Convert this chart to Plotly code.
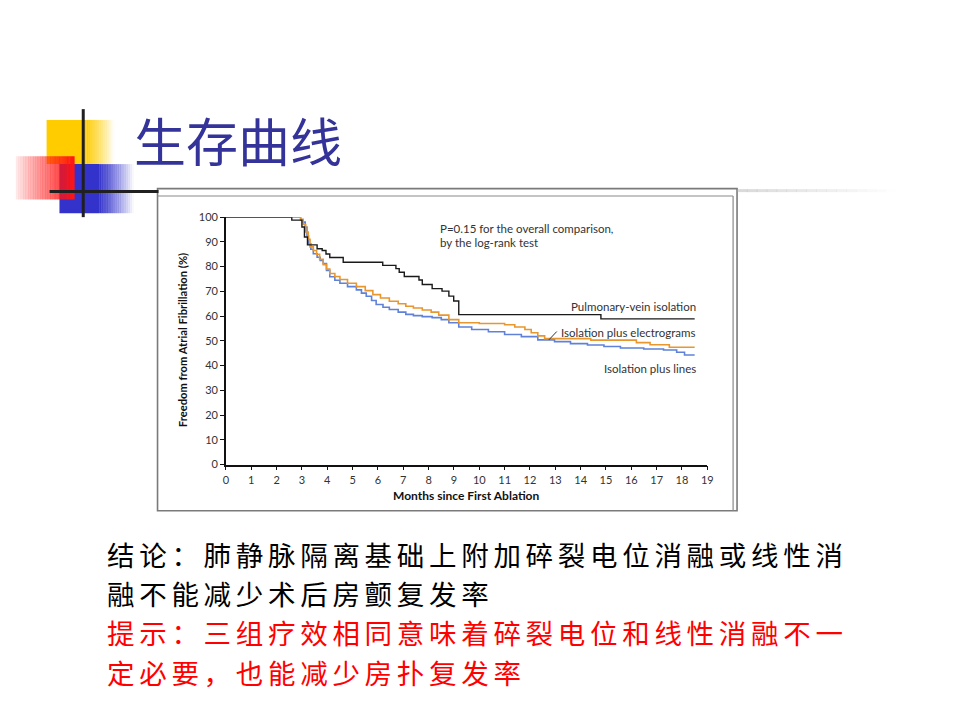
import plotly.graph_objects as go

# ---------------- data ----------------
months_pvi = [0, 2.6, 3.0, 3.1, 3.22, 3.6, 3.8, 3.95, 4.1, 4.63, 6.19, 6.71, 6.84, 7.04,
              7.62, 7.75, 8.14, 8.53, 8.8, 8.99, 9.19, 14.8, 18.5]
surv_pvi = [100, 98.8, 96, 92, 88.8, 87.2, 86.5, 85.1, 83.7, 81.8, 80.5, 79.2, 77.7, 76.0,
            74.6, 72.8, 71.1, 70.1, 68.1, 66.1, 60.6, 58.9, 58.9]

months_egm = [0, 2.95, 3.05, 3.15, 3.25, 3.32, 3.45, 3.58, 3.7, 3.84, 3.97, 4.1, 4.3, 4.5,
              4.8, 5.15, 5.5, 5.8, 6.1, 6.45, 6.8, 7.1, 7.4, 7.75, 8.1, 8.4, 8.8, 9.19,
              10.0, 11.0, 11.4, 11.8, 12.05, 12.31, 12.58, 14.4, 16.2, 16.74, 17.5, 18.5]
surv_egm = [100, 99, 97, 94, 91, 88, 86.5, 85, 83, 80.8, 79, 77.2, 76, 74.8,
            73.3, 71.9, 70.3, 68.7, 67.3, 66.0, 65, 64.0, 63.3, 62.5, 61.6, 60.4, 58.6, 57.3,
            57.0, 56.5, 55.6, 54.6, 53.3, 52.0, 50.9, 50.3, 49.3, 48.4, 47.4, 47.4]

months_lines = [0, 2.95, 3.05, 3.13, 3.2, 3.26, 3.35, 3.45, 3.6, 3.72, 3.84, 3.97, 4.1, 4.3,
                4.5, 4.8, 5.15, 5.35, 5.54, 5.75, 5.93, 6.2, 6.45, 6.8, 7.1, 7.4, 7.75, 8.14,
                8.5, 8.8, 9.19, 9.7, 10.36, 11.0, 11.66, 12.31, 12.97, 13.6, 14.27, 14.92,
                15.57, 16.49, 17.27, 17.79, 18.1, 18.5]
surv_lines = [100, 99, 98, 96, 92.5, 89.2, 87, 85.2, 83.8, 82.5, 81.2, 78.5, 75.9, 74.5,
              73.3, 71.9, 70.6, 69.3, 68.0, 66.3, 64.7, 63.6, 62.7, 61.6, 60.7, 60.2, 59.8, 59.4,
              58.6, 57.3, 55.6, 54.6, 53.7, 52.6, 51.7, 50.4, 49.7, 48.9, 48.3, 47.7,
              47.1, 46.7, 46.3, 45.4, 44.3, 44.3]

x_ticks = list(range(0, 20))
y_ticks = list(range(0, 101, 10))

title_text = "生存曲线"
series_labels = ["Pulmonary-vein isolation", "Isolation plus electrograms", "Isolation plus lines"]
p_text = ["P=0.15 for the overall comparison,", "by the log-rank test"]
x_title = "Months since First Ablation"
y_title = "Freedom from Atrial Fibrillation (%)"
conclusion_lines = ["结论：肺静脉隔离基础上附加碎裂电位消融或线性消",
                    "融不能减少术后房颤复发率"]
hint_lines = ["提示：三组疗效相同意味着碎裂电位和线性消融不一",
              "定必要，也能减少房扑复发率"]

# ---------------- helpers (pixel -> paper) ----------------
W, H = 960, 720
def X(px):
    return px / W
def Y(py):
    return 1 - py / H

CJK = "Noto Sans CJK SC"
SANS = "Lato, Open Sans, sans-serif"

fig = go.Figure()

fig.add_trace(go.Scatter(x=months_lines, y=surv_lines, mode="lines", line_shape="hv",
                         line=dict(color="#5F82D8", width=1.6), name=series_labels[2],
                         showlegend=False, hoverinfo="skip"))
fig.add_trace(go.Scatter(x=months_egm, y=surv_egm, mode="lines", line_shape="hv",
                         line=dict(color="#E8972F", width=1.6), name=series_labels[1],
                         showlegend=False, hoverinfo="skip"))
fig.add_trace(go.Scatter(x=months_pvi, y=surv_pvi, mode="lines", line_shape="hv",
                         line=dict(color="#1a1a1a", width=1.4), name=series_labels[0],
                         showlegend=False, hoverinfo="skip"))

shapes = []

def rect(x0, y0, x1, y1, color, layer="above"):
    shapes.append(dict(type="rect", xref="paper", yref="paper",
                       x0=X(x0), x1=X(x1), y0=Y(y1), y1=Y(y0),
                       fillcolor=color, line=dict(width=0), layer=layer))

def hfade(x0, x1, y0, y1, rgb, a0, a1, n):
    step = (x1 - x0) / n
    for i in range(n):
        a = a0 + (a1 - a0) * (i + 0.5) / n
        rect(x0 + i * step, y0, x0 + (i + 1) * step + 0.3, y1,
             "rgba(%d,%d,%d,%.3f)" % (rgb[0], rgb[1], rgb[2], a))

# yellow square with fade to the right
rect(44, 115, 84, 160, "rgb(255,204,0)")
hfade(84, 112, 115, 160, (255, 204, 0), 1.0, 0.0, 14)
# blue square with fade to the right
rect(57, 160, 97, 210, "rgb(51,51,204)")
hfade(97, 132, 160, 210, (51, 51, 204), 1.0, 0.0, 16)
# red square fading to the left
hfade(13, 72, 152, 196, (255, 20, 20), 0.08, 1.0, 24)

# decorative black lines
shapes.append(dict(type="line", xref="paper", yref="paper", x0=X(81), x1=X(81),
                   y0=Y(104), y1=Y(214), line=dict(color="#202020", width=3)))
shapes.append(dict(type="line", xref="paper", yref="paper", x0=X(47), x1=X(157),
                   y0=Y(188), y1=Y(188), line=dict(color="#202020", width=3)))
# faint gray line to the right of the frame
n = 16
for i in range(n):
    a = 0.45 * (1 - (i + 0.5) / n)
    xa = 741 + i * 10
    shapes.append(dict(type="line", xref="paper", yref="paper", x0=X(xa), x1=X(xa + 10.5),
                       y0=Y(187), y1=Y(187),
                       line=dict(color="rgba(170,170,170,%.3f)" % a, width=3)))

# picture frame
shapes.append(dict(type="rect", xref="paper", yref="paper", x0=X(156), x1=X(741),
                   y0=Y(513), y1=Y(185), line=dict(color="#7a7a7a", width=1.6),
                   fillcolor="rgba(0,0,0,0)", layer="below"))
shapes.append(dict(type="line", xref="paper", yref="paper", x0=X(156), x1=X(737),
                   y0=Y(192.5), y1=Y(192.5), line=dict(color="#8a8a8a", width=1.2)))
shapes.append(dict(type="line", xref="paper", yref="paper", x0=X(737), x1=X(737),
                   y0=Y(192.5), y1=Y(513), line=dict(color="#8a8a8a", width=1.2)))
# leader line for electrograms label
shapes.append(dict(type="line", xref="paper", yref="paper", x0=X(551), x1=X(559),
                   y0=Y(339), y1=Y(330.5), line=dict(color="#333", width=1)))

annotations = []
def text(px, py, s, size, color, family, xanchor="left", bold=False, angle=0, pad=1):
    annotations.append(dict(x=X(px), y=Y(py), xref="paper", yref="paper", text=s,
                            showarrow=False, xanchor=xanchor, yanchor="middle",
                            textangle=angle, align="left", borderpad=pad,
                            font=dict(size=size, color=color, family=family,
                                      weight="bold" if bold else "normal")))

text(130, 135, title_text, 52, "#333399", CJK)
text(439, 226, p_text[0], 11.5, "#333", SANS)
text(439, 240, p_text[1], 11.5, "#333", SANS)
text(702, 305, series_labels[0], 11.5, "#333", SANS, xanchor="right")
text(702, 331, series_labels[1], 11.5, "#333", SANS, xanchor="right")
text(702, 368, series_labels[2], 11.5, "#333", SANS, xanchor="right")
text(468, 497, x_title, 12, "#111", SANS, xanchor="center", bold=True)
text(182, 339, y_title, 11.2, "#111", SANS, xanchor="center", bold=True, angle=-90)

def spaced(s):
    return '<span style="letter-spacing:4.7px">' + s + '</span>'

body_size = 27.5
text(104, 557, spaced(conclusion_lines[0]), body_size, "#000000", CJK, pad=0)
text(104, 597, spaced(conclusion_lines[1]), body_size, "#000000", CJK, pad=0)
text(104, 637, spaced(hint_lines[0]), body_size, "#FF0000", CJK, pad=0)
text(104, 677, spaced(hint_lines[1]), body_size, "#FF0000", CJK, pad=0)

fig.update_layout(
    width=W, height=H, margin=dict(l=0, r=0, t=0, b=0),
    paper_bgcolor="white", plot_bgcolor="rgba(0,0,0,0)",
    shapes=shapes, annotations=annotations, showlegend=False,
    xaxis=dict(domain=[X(225), X(711)], range=[0, 19], tickvals=x_ticks,
               showline=True, linecolor="#111", linewidth=1.5, ticks="outside",
               ticklen=4, tickwidth=1.3, tickcolor="#111", showgrid=False,
               zeroline=False, tickfont=dict(size=11, color="#333", family=SANS),
               fixedrange=True),
    yaxis=dict(domain=[Y(466), Y(214)], range=[0, 100], tickvals=y_ticks,
               showline=True, linecolor="#111", linewidth=1.5, ticks="outside",
               ticklen=4, tickwidth=1.3, tickcolor="#111", showgrid=False,
               zeroline=False, tickfont=dict(size=11, color="#333", family=SANS),
               fixedrange=True),
)

fig.write_html("out.html", config={"displayModeBar": False},
               post_script="document.body.style.margin='0';document.body.style.overflow='hidden';")
